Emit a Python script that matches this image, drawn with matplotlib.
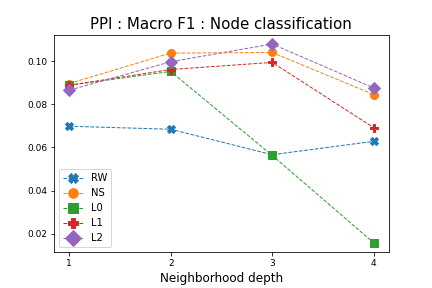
import matplotlib
matplotlib.use("Agg")
from matplotlib import pyplot as plt

depth = [1, 2, 3, 4]
rw = [0.0698, 0.0684, 0.0566, 0.0628]
ns = [0.0896, 0.1037, 0.1040, 0.0845]
l0 = [0.0888, 0.0952, 0.0563, 0.0158]
l1 = [0.0888, 0.0961, 0.0994, 0.0692]
l2 = [0.0865, 0.0997, 0.1079, 0.0876]

series = [("RW", rw, "X", 8), ("NS", ns, "o", 8), ("L0", l0, "s", 8), ("L1", l1, "P", 8), ("L2", l2, "D", 9)]

fig = plt.figure(figsize=(6, 4), dpi=72)
fig.subplots_adjust(bottom=0.125, top=0.877, left=0.125, right=0.9)
ax = fig.add_subplot(1, 1, 1)
for name, vals, mk, ms in series:
    ax.plot(depth, vals, linestyle="--", linewidth=1, marker=mk, markersize=ms, label=name)

ax.set_xticks(depth)
ax.set_ylim(0.0115, 0.1119)
ax.set_title("PPI : Macro F1 : Node classification", fontsize=15)
ax.set_xlabel("Neighborhood depth", fontsize=12)
ax.tick_params(labelsize=9)
ax.legend(loc="lower left", fontsize=10, markerscale=1.2)

fig.savefig("out.png", dpi=72)
